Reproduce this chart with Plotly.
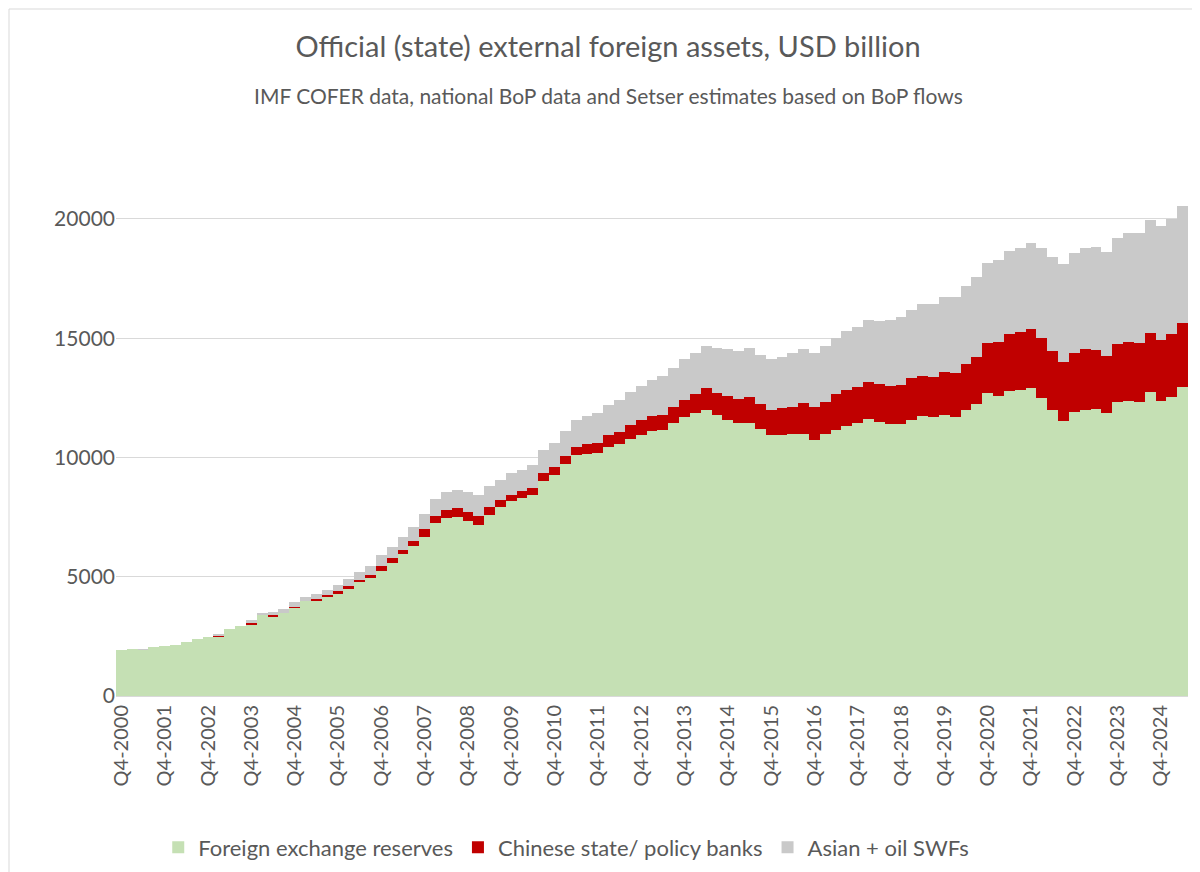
import plotly.graph_objects as go

# Quarter labels Q4-2000 .. Q2-2025
quarters = []
for year in range(2000, 2026):
    for q in range(1, 5):
        if (year == 2000 and q < 4) or (year == 2025 and q > 2):
            continue
        quarters.append(f"Q{q}-{year}")
tick_labels = [f"Q4-{y}" for y in range(2000, 2025)]

# Cumulative levels, USD thousand billion.
fx_reserves = [1.91, 1.96, 1.96, 2.06, 2.11, 2.15, 2.27, 2.39, 2.48, 2.48,
               2.79, 2.95, 3.00, 3.42, 3.33, 3.47, 3.72, 3.99, 4.01, 4.15,
               4.31, 4.52, 4.77, 4.94, 5.26, 5.59, 5.94, 6.30, 6.68, 7.24,
               7.45, 7.49, 7.35, 7.16, 7.57, 7.92, 8.17, 8.29, 8.43, 9.01,
               9.25, 9.71, 10.09, 10.16, 10.20, 10.44, 10.56, 10.77, 10.96, 11.10,
               11.15, 11.45, 11.71, 11.85, 12.01, 11.78, 11.59, 11.45, 11.45, 11.21,
               10.93, 10.96, 11.00, 11.00, 10.72, 10.98, 11.15, 11.31, 11.45, 11.62,
               11.49, 11.42, 11.42, 11.59, 11.73, 11.68, 11.78, 11.71, 12.01, 12.24,
               12.69, 12.59, 12.80, 12.83, 12.93, 12.51, 11.99, 11.54, 11.92, 12.01,
               12.04, 11.85, 12.34, 12.38, 12.34, 12.76, 12.38, 12.55, 12.94]
banks_top = [1.91, 1.96, 1.96, 2.06, 2.11, 2.15, 2.27, 2.39, 2.48, 2.55,
             2.79, 2.95, 3.05, 3.43, 3.38, 3.47, 3.74, 3.99, 4.06, 4.22,
             4.39, 4.60, 4.87, 5.07, 5.44, 5.78, 6.12, 6.51, 7.00, 7.55,
             7.80, 7.87, 7.72, 7.55, 7.92, 8.20, 8.41, 8.58, 8.72, 9.36,
             9.60, 10.06, 10.44, 10.58, 10.62, 10.93, 11.07, 11.38, 11.57, 11.73,
             11.80, 12.13, 12.41, 12.65, 12.90, 12.69, 12.59, 12.43, 12.55, 12.22,
             12.01, 12.06, 12.13, 12.27, 12.10, 12.34, 12.65, 12.83, 12.94, 13.15,
             13.07, 13.00, 13.04, 13.32, 13.43, 13.36, 13.60, 13.53, 13.91, 14.23,
             14.79, 14.83, 15.19, 15.24, 15.38, 15.00, 14.48, 14.02, 14.37, 14.54,
             14.51, 14.27, 14.77, 14.86, 14.79, 15.21, 14.91, 15.19, 15.63]
total = [1.91, 1.96, 1.97, 2.06, 2.11, 2.15, 2.27, 2.39, 2.48, 2.60,
         2.79, 2.95, 3.17, 3.45, 3.52, 3.63, 3.96, 4.17, 4.29, 4.45,
         4.65, 4.90, 5.19, 5.47, 5.91, 6.26, 6.65, 7.09, 7.63, 8.25,
         8.56, 8.63, 8.56, 8.42, 8.79, 9.07, 9.35, 9.49, 9.67, 10.30,
         10.61, 11.10, 11.57, 11.73, 11.87, 12.18, 12.41, 12.76, 13.01, 13.25,
         13.42, 13.77, 14.12, 14.37, 14.68, 14.58, 14.54, 14.48, 14.57, 14.30,
         14.12, 14.19, 14.37, 14.54, 14.37, 14.68, 15.00, 15.28, 15.45, 15.75,
         15.71, 15.75, 15.89, 16.17, 16.45, 16.45, 16.73, 16.73, 17.18, 17.56,
         18.16, 18.27, 18.65, 18.77, 19.00, 18.77, 18.41, 18.09, 18.56, 18.77,
         18.83, 18.62, 19.21, 19.40, 19.40, 19.96, 19.71, 19.99, 20.55]

# Stack layers in USD billion
reserves = [r * 1000 for r in fx_reserves]
banks = [(b - r) * 1000 for b, r in zip(banks_top, fx_reserves)]
swfs = [(t - b) * 1000 for t, b in zip(total, banks_top)]

grey_text = "#595959"
font = "Lato, 'Open Sans', sans-serif"

fig = go.Figure()
fig.add_trace(go.Bar(x=quarters, y=reserves, name="Foreign exchange reserves",
                     marker_color="#C5E0B4", marker_line_width=0))
fig.add_trace(go.Bar(x=quarters, y=banks, name="Chinese state/ policy banks",
                     marker_color="#C00000", marker_line_width=0))
fig.add_trace(go.Bar(x=quarters, y=swfs, name="Asian + oil SWFs",
                     marker_color="#C9C9C9", marker_line_width=0))

fig.update_layout(
    width=1200, height=872, barmode="stack", bargap=0,
    paper_bgcolor="white", plot_bgcolor="white",
    margin=dict(l=108, r=20, t=94, b=184),
    font=dict(family=font, color=grey_text, size=19),
    title=dict(text="Official (state) external foreign assets, USD billion",
               xref="container", x=0.5, xanchor="center", y=0.956,
               yanchor="middle", font=dict(size=29, color=grey_text)),
    legend=dict(orientation="h", x=0.42, xanchor="center", y=-0.255,
                yanchor="middle", font=dict(size=22), traceorder="normal"),
    showlegend=True,
)
fig.add_annotation(text="IMF COFER data, national BoP data and Setser estimates based on BoP flows",
                   xref="paper", yref="paper", x=0.459, y=1.035, showarrow=False,
                   font=dict(size=21, color=grey_text))
fig.add_shape(type="rect", xref="paper", yref="paper",
              x0=-107 / 1072, x1=1 + 19 / 1072, y0=-183 / 594, y1=1 + 93 / 594,
              line=dict(color="#D9D9D9", width=1))

fig.update_xaxes(type="category", tickmode="array", tickvals=tick_labels,
                 ticktext=tick_labels, tickangle=-90, showgrid=False,
                 showline=True, linecolor="#D9D9D9", ticks="",
                 tickfont=dict(size=20), automargin=False)
fig.update_yaxes(range=[0, 24900], tickvals=[0, 5000, 10000, 15000, 20000],
                 tickformat="d", showgrid=True, gridcolor="#D9D9D9",
                 zeroline=False, tickfont=dict(size=21), ticksuffix="  ",
                 automargin=False)

fig.write_html("out.html")
